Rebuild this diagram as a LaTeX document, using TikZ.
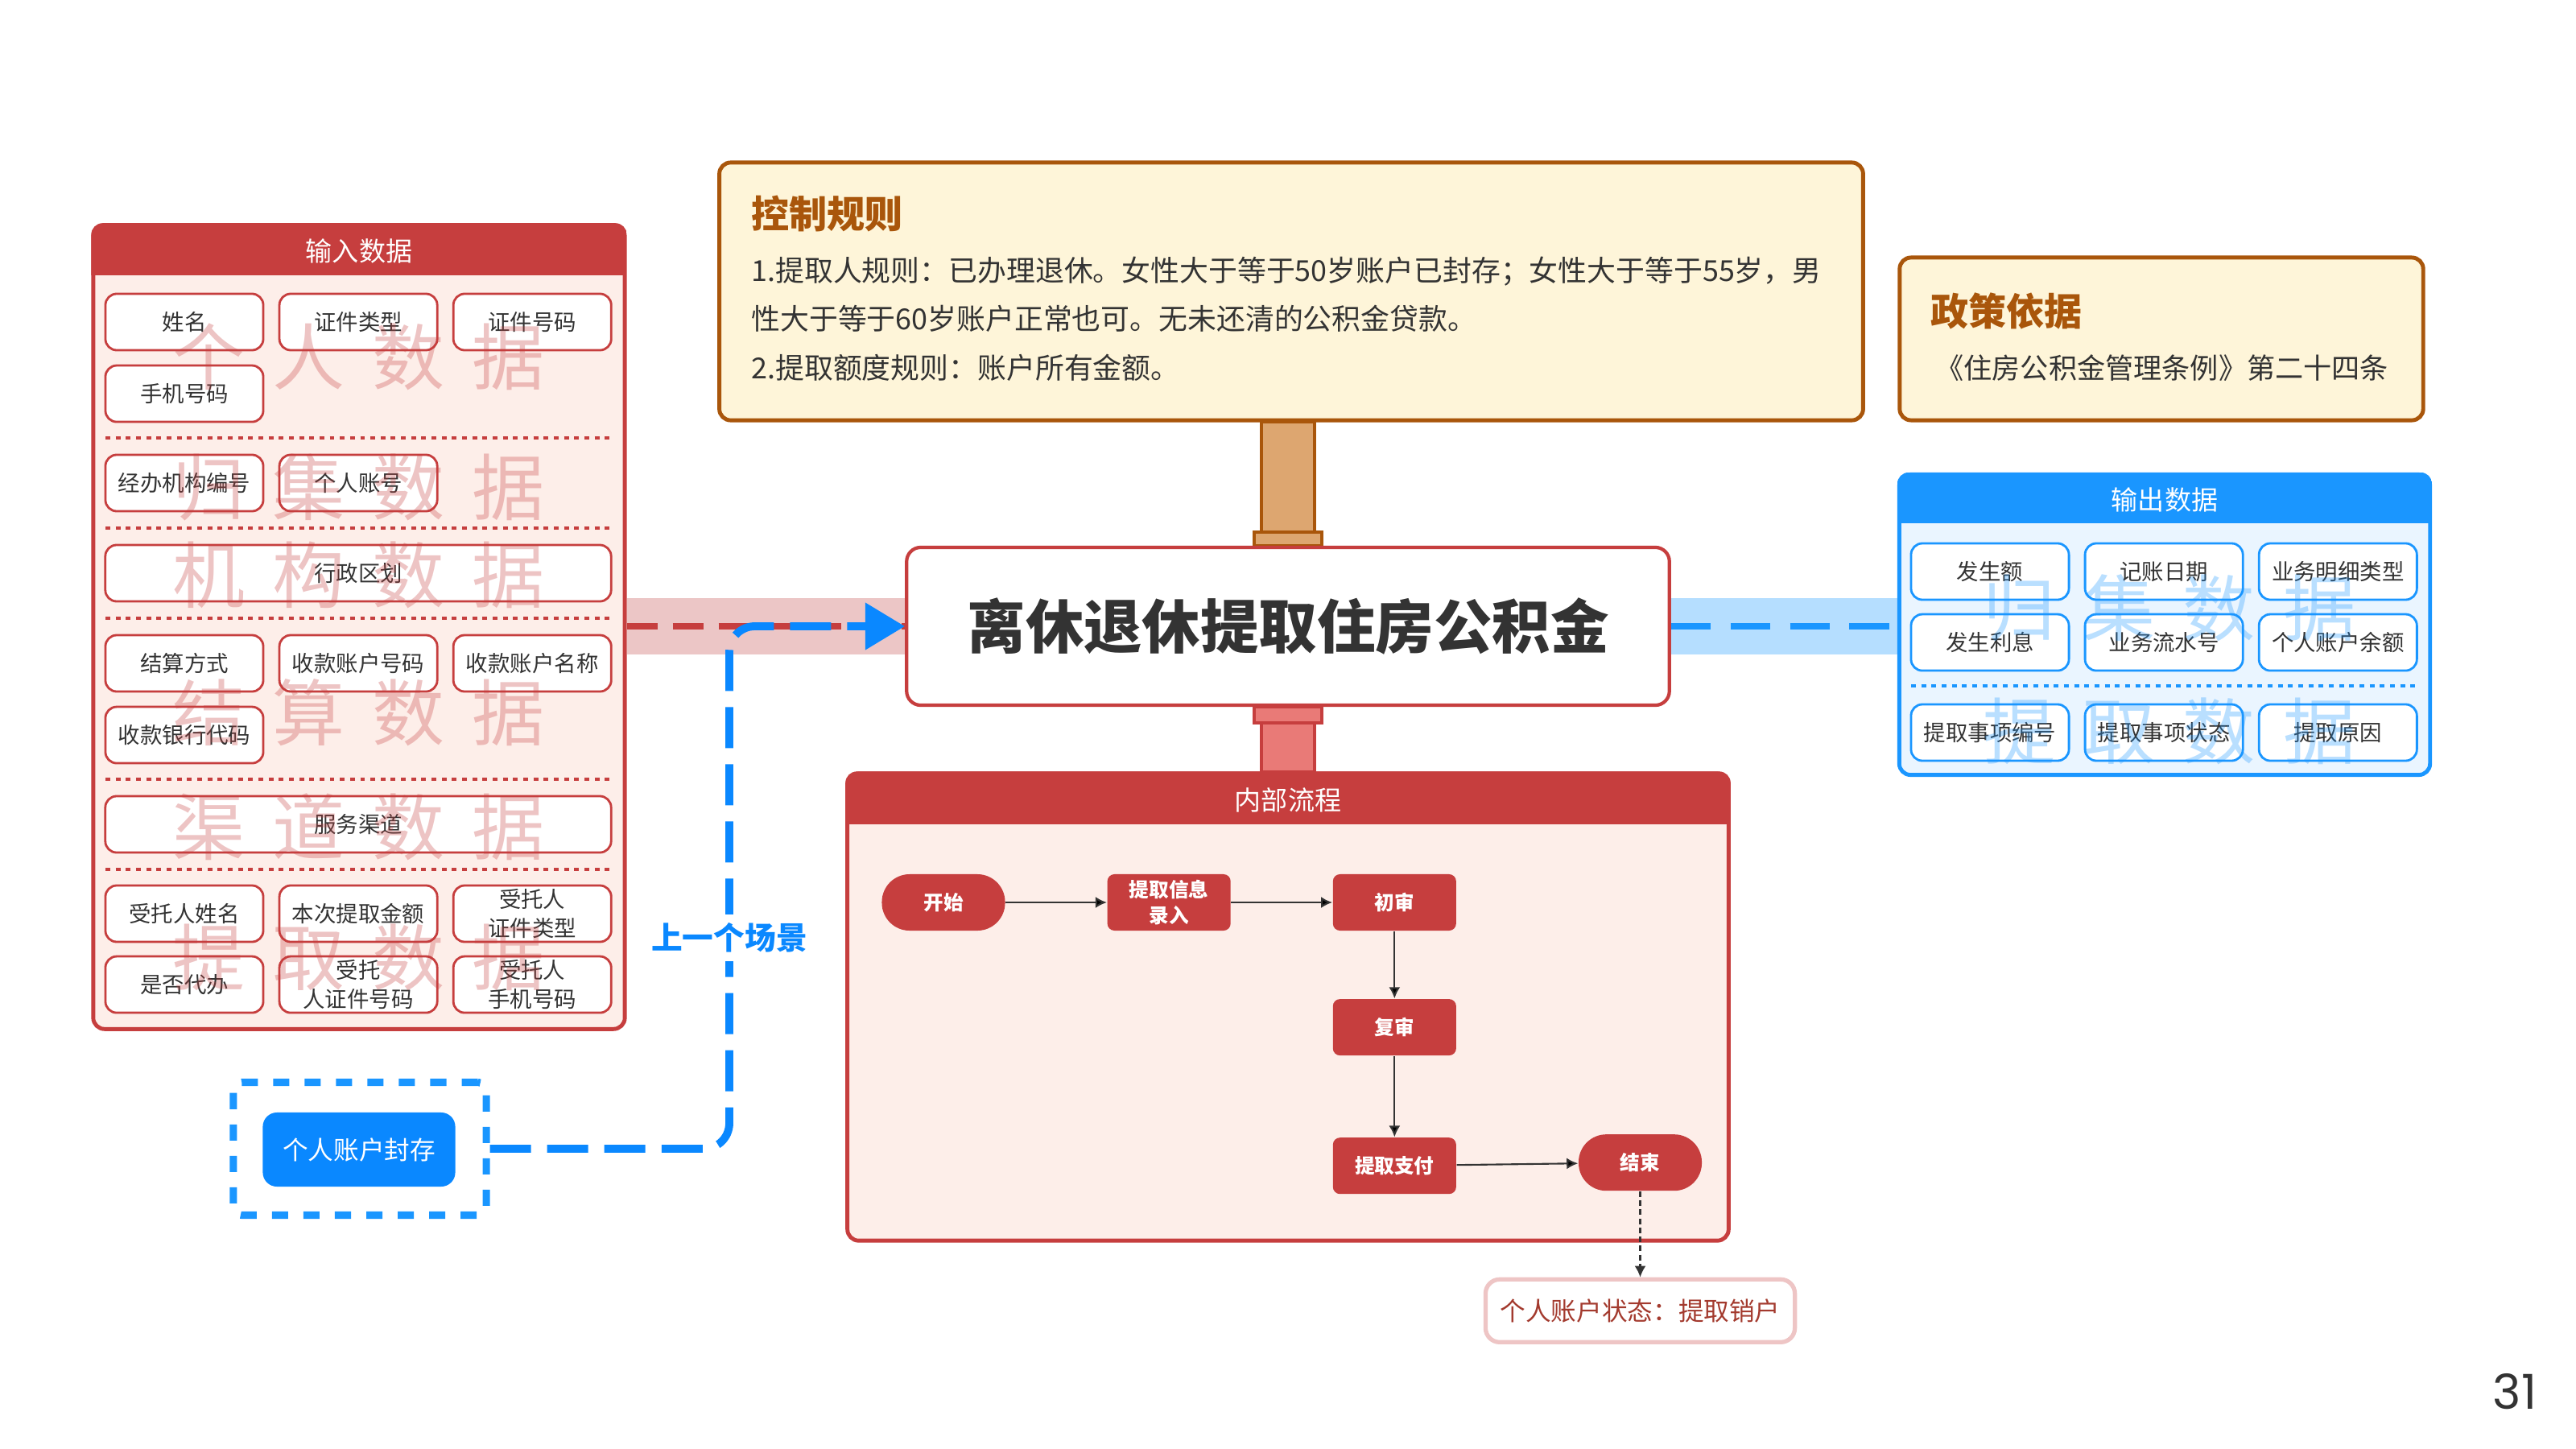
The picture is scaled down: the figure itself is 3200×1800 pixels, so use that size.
\documentclass[tikz,border=0pt]{standalone}
\usepackage{fontspec}
\setmainfont{Noto Sans CJK SC}
\newfontfamily\numfont{Poppins}
\usepackage{tikz}
\usetikzlibrary{positioning}
\usetikzlibrary{arrows,arrows.meta,backgrounds}

\definecolor{inred}{HTML}{C63E3E}
\definecolor{inpink}{HTML}{FDEEE9}
\definecolor{bandred}{HTML}{ECC6C6}
\definecolor{barred}{HTML}{E97A77}
\definecolor{outblue}{HTML}{1A96FF}
\definecolor{sealblue}{HTML}{0A88FF}
\definecolor{outfill}{HTML}{EAF5FF}
\definecolor{bandblue}{HTML}{B5DEFF}
\definecolor{rulefill}{HTML}{FEF5D9}
\definecolor{rulebrown}{HTML}{A9560B}
\definecolor{barbrown}{HTML}{DDA670}
\definecolor{ink}{HTML}{333333}
\definecolor{statered}{HTML}{A33A2E}

\newcommand{\wm}[4]{#1\hspace{3.4mm}#2\hspace{3.4mm}#3\hspace{3.4mm}#4}

\begin{document}
\begin{tikzpicture}[x=0.01cm,y=-0.01cm,>={Latex[length=4pt,width=4pt]},node distance=2.16cm,
  panel/.style={line width=1.4pt,rounded corners=4pt,inner sep=0pt},
  headtext/.style={text=white,font=\fontsize{9.4pt}{11pt}\selectfont},
  field/.style={draw=inred,fill=white,line width=0.8pt,rounded corners=4pt,minimum width=1.96cm,minimum height=0.7cm,inner sep=1pt,align=center,text=ink,font=\fontsize{7.8pt}{10pt}\selectfont},
  widefield/.style={field,minimum width=6.28cm},
  outfield/.style={field,draw=outblue},
  sepline/.style={line width=1pt,dash pattern=on 1.7pt off 1.9pt},
  wmark/.style={text=inred,text opacity=0.3,font=\fontsize{25.6pt}{26pt}\selectfont},
  flowbox/.style={fill=inred,text=white,rounded corners=2.5pt,minimum width=1.53cm,minimum height=0.7cm,inner sep=1pt,align=center,font=\bfseries\fontsize{7pt}{9pt}\selectfont},
  terminal/.style={flowbox,rounded corners=9.8pt},
  rulebox/.style={draw=rulebrown,fill=rulefill,line width=1.4pt,rounded corners=4pt},
  ruletitle/.style={anchor=west,text=rulebrown,font=\bfseries\fontsize{13.4pt}{15pt}\selectfont},
  ruletext/.style={anchor=west,text=ink,font=\fontsize{10.2pt}{12pt}\selectfont},
  bar/.style={line width=1pt}]
\useasboundingbox (0,0) rectangle (3200,1800);

\node (rule) [rulebox,minimum width=14.2cm,minimum height=3.2cm] at (1604,362) {};
\node (ruletitle) [ruletitle] at (921,265) {控制规则};
\node (rl1) [ruletext] at (921,337) {1.提取人规则：已办理退休。女性大于等于50岁账户已封存；女性大于等于55岁，男};
\node (rl2) [ruletext] at (921,396) {性大于等于60岁账户正常也可。无未还清的公积金贷款。};
\node (rl3) [ruletext] at (921,457) {2.提取额度规则：账户所有金额。};

\node (policy) [rulebox,minimum width=6.5cm,minimum height=2.02cm] at (2685,421) {};
\node (policytitle) [ruletitle] at (2386,386) {政策依据};
\node (policytext) [ruletext,font=\fontsize{10pt}{12pt}\selectfont] at (2392,457) {《住房公积金管理条例》第二十四条};

\node (main) [draw=inred,fill=white,line width=1.2pt,rounded corners=5pt,minimum width=9.47cm,minimum height=1.96cm,text=ink,font=\bfseries\fontsize{20.6pt}{24pt}\selectfont] at (1600,778) {离休退休提取住房公积金};

\node (input) [panel,draw=inred,fill=inpink,minimum width=6.6cm,minimum height=9.98cm] at (446,779) {};
\begin{scope}
\clip[rounded corners=4pt] (input.north west) rectangle (input.south east);
\fill[inred] (input.north west) rectangle ([yshift=-0.65cm]input.north east);
\end{scope}
\node (inhead) [headtext] at (446,312) {输入数据};

\node (name) [field] at (229,400) {姓名};
\node (idtype) [field,right of=name] {证件类型};
\node (idno) [field,right of=idtype] {证件号码};
\node (phone) [field,below of=name,node distance=0.89cm] {手机号码};
\node (agency) [field] at (229,600) {经办机构编号};
\node (acct) [field,right of=agency] {个人账号};
\node (region) [widefield] at (445,712) {行政区划};
\node (settle) [field] at (229,824) {结算方式};
\node (payno) [field,right of=settle] {收款账户号码};
\node (payname) [field,right of=payno] {收款账户名称};
\node (bank) [field,below of=settle,node distance=0.89cm] {收款银行代码};
\node (channel) [widefield] at (445,1024) {服务渠道};
\node (agent) [field] at (229,1135) {受托人姓名};
\node (amount) [field,right of=agent] {本次提取金额};
\node (agtype) [field,right of=amount] {受托人\\证件类型};
\node (proxy) [field,below of=agent,node distance=0.88cm] {是否代办};
\node (agno) [field,right of=proxy] {受托\\人证件号码};
\node (agphone) [field,right of=agno] {受托人\\手机号码};

\draw[sepline,inred] (131,544) -- (759,544);
\draw[sepline,inred] (131,656) -- (759,656);
\draw[sepline,inred] (131,768) -- (759,768);
\draw[sepline,inred] (131,968) -- (759,968);
\draw[sepline,inred] (131,1080) -- (759,1080);

\node (wm1) [wmark] at (446,443) {\wm{个}{人}{数}{据}};
\node (wm2) [wmark] at (446,605) {\wm{归}{集}{数}{据}};
\node (wm3) [wmark] at (446,714) {\wm{机}{构}{数}{据}};
\node (wm4) [wmark] at (446,885) {\wm{结}{算}{数}{据}};
\node (wm5) [wmark] at (446,1027) {\wm{渠}{道}{数}{据}};
\node (wm6) [wmark] at (446,1189) {\wm{提}{取}{数}{据}};

\node (output) [panel,draw=outblue,fill=outfill,minimum width=6.59cm,minimum height=3.73cm] at (2689,776) {};
\begin{scope}
\clip[rounded corners=4pt] (output.north west) rectangle (output.south east);
\fill[outblue] (output.north west) rectangle ([yshift=-0.63cm]output.north east);
\end{scope}
\node (outhead) [headtext] at (2689,621) {输出数据};

\node (amt) [outfield] at (2472,710) {发生额};
\node (date) [outfield,right of=amt] {记账日期};
\node (btype) [outfield,right of=date] {业务明细类型};
\node (intr) [outfield,below of=amt,node distance=0.88cm] {发生利息};
\node (serial) [outfield,right of=intr] {业务流水号};
\node (balance) [outfield,right of=serial] {个人账户余额};
\node (itemno) [outfield] at (2472,910) {提取事项编号};
\node (itemst) [outfield,right of=itemno] {提取事项状态};
\node (reason) [outfield,right of=itemst] {提取原因};
\draw[sepline,outblue] (2374,852) -- (3002,852);
\node (wm7) [wmark,text=outblue] at (2695,755) {\wm{归}{集}{数}{据}};
\node (wm8) [wmark,text=outblue] at (2695,908) {\wm{提}{取}{数}{据}};

\node (flow) [panel,draw=inred,fill=inpink,minimum width=10.94cm,minimum height=5.8cm] at (1600,1251) {};
\begin{scope}
\clip[rounded corners=4pt] (flow.north west) rectangle (flow.south east);
\fill[inred] (flow.north west) rectangle ([yshift=-0.66cm]flow.north east);
\end{scope}
\node (flowhead) [headtext] at (1600,994) {内部流程};

\node (start) [terminal] at (1172,1121) {开始};
\node (entry) [flowbox,right of=start,node distance=2.8cm] {提取信息\\录入};
\node (first) [flowbox,right of=entry,node distance=2.8cm] {初审};
\node (second) [flowbox,below of=first,node distance=1.55cm] {复审};
\node (pay) [flowbox,below of=second,node distance=1.72cm] {提取支付};
\node (finish) [terminal,right of=pay,node distance=3.05cm,yshift=0.04cm] {结束};
\node (state) [draw=inred!30,fill=white,line width=1.5pt,rounded corners=5pt,minimum width=3.84cm,minimum height=0.78cm,text=statered,font=\fontsize{9pt}{11pt}\selectfont,below of=finish,node distance=1.84cm] {个人账户状态：提取销户};
\path[->,draw=ink,line width=0.6pt] (start) edge (entry)
  (entry) edge (first)
  (first) edge (second)
  (second) edge (pay)
  (pay) edge (finish);
\draw[->,ink,line width=0.6pt,dash pattern=on 2pt off 1.2pt] (finish) -- (state);

\node (sealframe) [draw=outblue,line width=2.6pt,dash pattern=on 5.7pt off 5.4pt,rounded corners=3pt,minimum width=3.14cm,minimum height=1.65cm] at (447,1427) {};
\node (seal) [fill=sealblue,text=white,rounded corners=5pt,minimum width=2.39cm,minimum height=0.92cm,font=\fontsize{9pt}{11pt}\selectfont] at (446,1428) {个人账户封存};
\coordinate (turn) at (906,778);

\begin{scope}[on background layer]
\fill[white] (0,0) rectangle (3200,1800);
\fill[bandred] ([yshift=0.35cm]input.east |- main.west) rectangle ([yshift=-0.35cm]main.west);
\fill[bandblue] ([yshift=0.35cm]main.east) rectangle ([yshift=-0.35cm]main.east -| output.west);
\filldraw[bar,draw=rulebrown,fill=barbrown] ([xshift=-0.33cm]main.north |- rule.south) rectangle ([xshift=0.33cm]main.north);
\filldraw[bar,draw=rulebrown,fill=barbrown] ([xshift=-0.42cm,yshift=0.17cm]main.north) rectangle ([xshift=0.42cm]main.north);
\filldraw[bar,draw=inred,fill=barred] ([xshift=-0.33cm]main.south) rectangle ([xshift=0.33cm]main.south |- flow.north);
\filldraw[bar,draw=inred,fill=barred] ([xshift=-0.42cm]main.south) rectangle ([xshift=0.42cm,yshift=-0.2cm]main.south);
\end{scope}

\draw[inred,line width=2.3pt,dash pattern=on 10.8pt off 5.4pt] (input.east |- main.west) -- (main.west);
\draw[outblue,line width=2.3pt,dash pattern=on 14pt off 7pt] (main.east) -- (main.east -| output.west);
\draw[sealblue,line width=2.8pt,dash pattern=on 14.5pt off 5.7pt,rounded corners=9pt,-{Triangle[length=14pt,width=16pt]}] (sealframe.east) -| (turn) -- (main.west);
\node (prev) [fill=white,inner sep=3pt,text=sealblue,font=\bfseries\fontsize{11pt}{13pt}\selectfont] at (906,1165) {上一个场景};

\node (page) [text=ink,font=\numfont\fontsize{17pt}{17pt}\selectfont] at (3124,1729) {31};
\end{tikzpicture}
\end{document}
